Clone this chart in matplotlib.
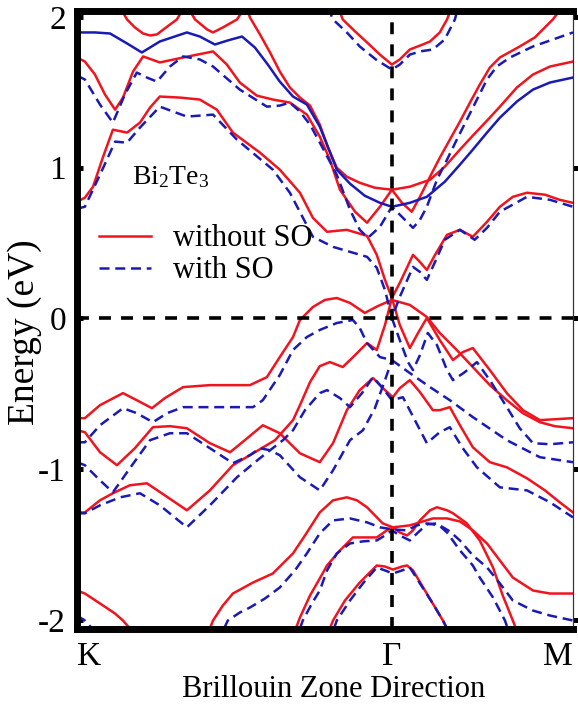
import matplotlib
matplotlib.use('Agg')
import matplotlib.pyplot as plt
from matplotlib.lines import Line2D

plt.rcParams['font.family'] = ['Liberation Serif', 'DejaVu Serif']
plt.rcParams['mathtext.fontset'] = 'custom'
plt.rcParams['mathtext.rm'] = 'Liberation Serif'
plt.rcParams['mathtext.it'] = 'Liberation Serif:italic'

# ---------------- high symmetry path ----------------
k_ticks = [0.0, 1.0, 1.575]
k_labels = ['K', 'Γ', 'M']
e_ticks = [-2, -1, 0, 1, 2]

# ---------------- bands without SO (red, solid) ----------------
k_r1 = [0.137, 0.159, 0.184, 0.210, 0.232, 0.254, 0.279, 0.317, 0.340]
e_r1 = [2.063, 1.983, 1.930, 1.890, 1.877, 1.884, 1.924, 1.983, 2.063]

k_r2 = [0.352, 0.375, 0.413, 0.432, 0.463, 0.508, 0.533]
e_r2 = [2.063, 1.983, 1.917, 1.897, 1.930, 1.983, 2.063]

k_r3 = [0.829, 0.844, 0.883, 0.921, 0.962, 1.000, 1.025, 1.057, 1.098, 1.121, 1.152, 1.175, 1.190]
e_r3 = [2.063, 1.983, 1.904, 1.831, 1.750, 1.684, 1.718, 1.784, 1.817, 1.837, 1.897, 1.983, 2.063]

k_ra = [0.540, 0.549, 0.581, 0.613, 0.644, 0.676, 0.708, 0.740, 0.771, 0.797, 0.825, 0.857, 0.898,
        0.946, 1.000, 1.057, 1.121, 1.168, 1.216, 1.257, 1.302, 1.343, 1.397, 1.448, 1.502, 1.575]
e_ra = [2.063, 1.997, 1.884, 1.764, 1.638, 1.532, 1.465, 1.412, 1.286, 1.133, 1.000, 0.940, 0.900,
        0.867, 0.854, 0.874, 0.920, 1.007, 1.120, 1.213, 1.312, 1.405, 1.532, 1.618, 1.671, 1.704]

k_rb = [0.000, 0.025, 0.057, 0.089, 0.121, 0.146, 0.178, 0.210, 0.263, 0.337, 0.432, 0.476, 0.517,
        0.571, 0.622, 0.676, 0.730, 0.771, 0.803, 0.835, 0.883, 0.921, 0.962, 1.000, 1.032, 1.063,
        1.089, 1.121, 1.152, 1.184, 1.216, 1.248, 1.279, 1.311, 1.343, 1.406, 1.454, 1.511, 1.540]
e_rb = [1.731, 1.704, 1.618, 1.485, 1.385, 1.465, 1.638, 1.738, 1.698, 1.731, 1.771, 1.684, 1.565,
        1.478, 1.452, 1.432, 1.352, 1.206, 1.053, 0.854, 0.708, 0.635, 0.741, 0.854, 0.767, 0.708,
        0.807, 0.940, 1.066, 1.186, 1.306, 1.432, 1.551, 1.664, 1.731, 1.804, 1.864, 1.983, 2.063]

k_rc = [0.000, 0.025, 0.051, 0.083, 0.114, 0.159, 0.200, 0.232, 0.263, 0.327, 0.390, 0.444, 0.495,
        0.581, 0.644, 0.708, 0.749, 0.794, 0.857, 0.921, 0.952, 0.978, 1.000, 1.025, 1.067, 1.089,
        1.111, 1.137, 1.175, 1.216, 1.257, 1.302, 1.343, 1.384, 1.429, 1.486, 1.533, 1.575]
e_rc = [0.774, 0.801, 0.874, 1.073, 1.252, 1.233, 1.299, 1.399, 1.472, 1.465, 1.452, 1.385, 1.233,
        1.100, 0.987, 0.834, 0.668, 0.575, 0.588, 0.548, 0.422, 0.256, 0.136, 0.236, 0.422, 0.375,
        0.322, 0.422, 0.555, 0.588, 0.542, 0.641, 0.741, 0.807, 0.834, 0.821, 0.787, 0.767]

k_rv1 = [0.000, 0.025, 0.073, 0.146, 0.190, 0.238, 0.279, 0.337, 0.422, 0.549, 0.603, 0.644, 0.686,
         0.708, 0.749, 0.787, 0.825, 0.867, 0.914, 0.956, 1.000, 1.057, 1.111, 1.152, 1.206, 1.257,
         1.311, 1.365, 1.416, 1.470, 1.517, 1.575]
e_rv1 = [-0.661, -0.661, -0.575, -0.495, -0.542, -0.595, -0.528, -0.455, -0.442, -0.442, -0.389,
         -0.256, -0.123, -0.010, 0.076, 0.123, 0.136, 0.103, 0.037, 0.083, 0.123, 0.090, 0.010,
         -0.096, -0.209, -0.322, -0.442, -0.542, -0.628, -0.688, -0.714, -0.728]

k_rv2 = [0.000, 0.025, 0.073, 0.114, 0.168, 0.222, 0.279, 0.349, 0.422, 0.495, 0.565, 0.629, 0.686,
         0.708, 0.740, 0.771, 0.803, 0.844, 0.883, 0.921, 0.952, 0.978, 1.000, 1.025, 1.057, 1.083,
         1.111, 1.152, 1.194, 1.225, 1.257, 1.311, 1.365, 1.416, 1.470, 1.575]
e_rv2 = [-1.286, -1.286, -1.206, -1.159, -1.106, -1.093, -1.173, -1.272, -1.140, -0.973, -0.887,
         -0.807, -0.674, -0.575, -0.422, -0.316, -0.289, -0.322, -0.243, -0.163, -0.209, -0.043,
         0.136, -0.043, -0.196, -0.096, 0.003, -0.143, -0.276, -0.223, -0.196, -0.342, -0.495,
         -0.608, -0.674, -0.661]

k_rv3 = [0.000, 0.025, 0.073, 0.127, 0.184, 0.241, 0.295, 0.349, 0.422, 0.486, 0.533, 0.590, 0.644,
         0.708, 0.771, 0.813, 0.857, 0.898, 0.940, 0.978, 1.003, 1.025, 1.057, 1.089, 1.130, 1.152,
         1.184, 1.216, 1.257, 1.311, 1.365, 1.429, 1.486, 1.533, 1.575]
e_rv3 = [-0.741, -0.754, -0.887, -0.973, -0.860, -0.721, -0.714, -0.728, -0.827, -0.887, -0.807,
         -0.708, -0.761, -0.894, -0.953, -0.827, -0.608, -0.475, -0.395, -0.475, -0.522, -0.462,
         -0.409, -0.488, -0.608, -0.608, -0.588, -0.708, -0.854, -0.953, -0.987, -1.060, -1.140,
         -1.219, -1.286]

k_rd1 = [0.422, 0.432, 0.463, 0.495, 0.559, 0.622, 0.686, 0.724, 0.771, 0.813, 0.857, 0.889, 0.921,
         0.971, 1.003, 1.057, 1.130, 1.175, 1.216, 1.257, 1.302, 1.343, 1.384, 1.448, 1.502, 1.575]
e_rd1 = [-2.056, -2.003, -1.904, -1.824, -1.751, -1.691, -1.558, -1.439, -1.286, -1.206, -1.186,
         -1.206, -1.252, -1.359, -1.385, -1.372, -1.326, -1.326, -1.346, -1.405, -1.492, -1.605,
         -1.718, -1.804, -1.824, -1.824]

k_rd2 = [0.695, 0.708, 0.740, 0.771, 0.794, 0.835, 0.876, 0.952, 0.984, 1.003, 1.025, 1.048, 1.067,
         1.089, 1.121, 1.143, 1.175, 1.194, 1.238, 1.279, 1.321, 1.352, 1.384, 1.394]
e_rd2 = [-2.056, -1.983, -1.837, -1.724, -1.638, -1.538, -1.452, -1.452, -1.405, -1.385, -1.419,
         -1.439, -1.405, -1.339, -1.272, -1.252, -1.272, -1.292, -1.359, -1.472, -1.651, -1.837,
         -2.003, -2.056]

k_rd3 = [0.803, 0.813, 0.851, 0.898, 0.952, 0.978, 1.003, 1.032, 1.048, 1.067, 1.105, 1.143, 1.162, 1.175]
e_rd3 = [-2.056, -2.003, -1.870, -1.751, -1.638, -1.645, -1.665, -1.645, -1.638, -1.671, -1.804,
         -1.937, -2.003, -2.056]

k_re1 = [0.000, 0.025, 0.073, 0.121, 0.146, 0.168]
e_re1 = [-1.804, -1.824, -1.890, -1.957, -2.003, -2.056]

# ---------------- band with SO drawn solid (blue) ----------------
k_bs = [0.000, 0.057, 0.105, 0.159, 0.206, 0.263, 0.349, 0.390, 0.438, 0.479, 0.524, 0.565, 0.606,
        0.644, 0.686, 0.730, 0.771, 0.803, 0.825, 0.867, 0.914, 0.962, 1.000, 1.057, 1.111, 1.168,
        1.216, 1.257, 1.302, 1.343, 1.397, 1.448, 1.502, 1.575]
e_bs = [1.897, 1.897, 1.890, 1.824, 1.764, 1.837, 1.897, 1.870, 1.817, 1.844, 1.870, 1.797, 1.684,
        1.571, 1.472, 1.419, 1.272, 1.106, 0.987, 0.894, 0.814, 0.767, 0.741, 0.767, 0.807, 0.907,
        1.020, 1.120, 1.233, 1.332, 1.439, 1.518, 1.565, 1.598]

# ---------------- bands with SO (blue, dashed) ----------------
k_b3v = [0.797, 0.813, 0.857, 0.898, 0.949, 1.000, 1.025, 1.057, 1.089, 1.130, 1.168, 1.200, 1.210]
e_b3v = [2.063, 1.983, 1.897, 1.804, 1.718, 1.651, 1.684, 1.750, 1.771, 1.784, 1.851, 1.983, 2.063]

k_bu = [0.000, 0.025, 0.073, 0.114, 0.152, 0.190, 0.222, 0.254, 0.295, 0.337, 0.390, 0.432, 0.517,
        0.603, 0.644, 0.676, 0.708, 0.740, 0.778, 0.825, 0.867, 0.898, 0.924, 0.962, 1.000, 1.032,
        1.067, 1.089, 1.111, 1.143, 1.175, 1.206, 1.238, 1.270, 1.302, 1.333, 1.375, 1.448, 1.511, 1.575]
e_bu = [1.611, 1.585, 1.419, 1.299, 1.485, 1.631, 1.598, 1.571, 1.671, 1.738, 1.718, 1.671, 1.518,
        1.405, 1.412, 1.432, 1.372, 1.286, 1.140, 0.953, 0.721, 0.588, 0.535, 0.608, 0.741, 0.674,
        0.601, 0.654, 0.741, 0.920, 1.053, 1.186, 1.319, 1.452, 1.585, 1.671, 1.731, 1.804, 1.850, 1.897]

k_bc = [0.000, 0.025, 0.073, 0.121, 0.159, 0.200, 0.263, 0.349, 0.432, 0.508, 0.622, 0.676, 0.749,
        0.813, 0.867, 0.921, 0.952, 0.978, 1.000, 1.025, 1.067, 1.089, 1.111, 1.137, 1.168, 1.216,
        1.263, 1.302, 1.343, 1.429, 1.502, 1.575]
e_bc = [0.728, 0.741, 0.953, 1.173, 1.166, 1.266, 1.405, 1.339, 1.352, 1.186, 0.987, 0.834, 0.542,
        0.475, 0.442, 0.409, 0.336, 0.189, 0.003, 0.143, 0.342, 0.309, 0.256, 0.375, 0.522, 0.588,
        0.522, 0.601, 0.708, 0.807, 0.787, 0.741]

k_bv1 = [0.000, 0.025, 0.073, 0.146, 0.190, 0.241, 0.286, 0.337, 0.454, 0.559, 0.590, 0.644, 0.686,
         0.730, 0.771, 0.825, 0.876, 0.898, 0.921, 0.962, 1.000, 1.057, 1.121, 1.184, 1.257, 1.365,
         1.470, 1.575]
e_bv1 = [-0.821, -0.821, -0.708, -0.595, -0.628, -0.688, -0.628, -0.588, -0.588, -0.588, -0.542,
         -0.375, -0.209, -0.123, -0.076, -0.030, -0.010, -0.063, -0.163, -0.256, -0.276, -0.362,
         -0.455, -0.542, -0.654, -0.807, -0.920, -0.953]

k_bv2 = [0.000, 0.025, 0.073, 0.114, 0.168, 0.232, 0.295, 0.349, 0.422, 0.495, 0.549, 0.581, 0.613,
         0.644, 0.708, 0.771, 0.813, 0.867, 0.908, 0.946, 0.978, 1.000]
e_bv2 = [-0.953, -0.973, -1.073, -1.153, -0.993, -0.807, -0.761, -0.761, -0.860, -0.960, -0.907,
         -0.860, -0.874, -0.907, -1.053, -1.140, -1.007, -0.807, -0.741, -0.595, -0.409, -0.276]

k_bvx = [1.000, 1.025, 1.051, 1.067, 1.089, 1.114, 1.143, 1.175, 1.194, 1.232, 1.270, 1.311, 1.365,
         1.406, 1.448, 1.502, 1.575]
e_bvx = [0.003, -0.143, -0.289, -0.342, -0.243, -0.096, -0.176, -0.342, -0.409, -0.355, -0.289,
         -0.409, -0.588, -0.728, -0.827, -0.834, -0.821]

k_bv3 = [0.000, 0.025, 0.073, 0.137, 0.200, 0.263, 0.349, 0.422, 0.508, 0.565, 0.613, 0.654, 0.686,
         0.724, 0.771, 0.794, 0.835, 0.867, 0.905, 0.940, 0.971, 1.000, 1.035, 1.073, 1.111, 1.152,
         1.184, 1.225, 1.270, 1.343, 1.429, 1.502, 1.575]
e_bv3 = [-1.292, -1.292, -1.239, -1.186, -1.159, -1.239, -1.385, -1.239, -1.053, -0.953, -0.874,
         -0.807, -0.741, -0.608, -0.495, -0.475, -0.528, -0.588, -0.495, -0.389, -0.462, -0.542,
         -0.522, -0.674, -0.827, -0.754, -0.721, -0.860, -0.987, -1.120, -1.140, -1.219, -1.319]

k_bd1 = [0.467, 0.479, 0.517, 0.549, 0.597, 0.644, 0.692, 0.730, 0.771, 0.813, 0.867, 0.921, 0.962,
         1.003, 1.048, 1.079, 1.111, 1.152, 1.184, 1.216, 1.257, 1.302, 1.343, 1.384, 1.448, 1.502, 1.575]
e_bd1 = [-2.056, -2.003, -1.950, -1.917, -1.857, -1.784, -1.671, -1.558, -1.425, -1.339, -1.326,
         -1.352, -1.385, -1.399, -1.405, -1.372, -1.359, -1.372, -1.412, -1.472, -1.571, -1.651,
         -1.757, -1.870, -1.937, -1.970, -2.003]

k_bd2 = [0.708, 0.717, 0.746, 0.771, 0.794, 0.825, 0.867, 0.908, 0.952, 0.978, 1.000, 1.025, 1.057,
         1.083, 1.111, 1.143, 1.175, 1.216, 1.257, 1.279, 1.321, 1.359, 1.368]
e_bd2 = [-2.056, -2.003, -1.890, -1.804, -1.671, -1.558, -1.492, -1.478, -1.472, -1.439, -1.405,
         -1.439, -1.472, -1.419, -1.365, -1.359, -1.419, -1.538, -1.638, -1.718, -1.850, -2.003, -2.056]

k_bd3 = [0.816, 0.825, 0.867, 0.908, 0.952, 0.978, 1.003, 1.032, 1.057, 1.089, 1.130, 1.162, 1.175]
e_bd3 = [-2.056, -2.003, -1.870, -1.757, -1.651, -1.671, -1.691, -1.671, -1.651, -1.757, -1.890,
         -2.003, -2.056]

k_be1 = [0.000, 0.025, 0.048]
e_be1 = [-1.970, -2.003, -2.056]

bandas_sem_so = [(k_r1, e_r1), (k_r2, e_r2), (k_r3, e_r3), (k_ra, e_ra), (k_rb, e_rb),
                 (k_rc, e_rc), (k_rv1, e_rv1), (k_rv2, e_rv2), (k_rv3, e_rv3),
                 (k_rd1, e_rd1), (k_rd2, e_rd2), (k_rd3, e_rd3), (k_re1, e_re1)]
bandas_com_so = [(k_b3v, e_b3v), (k_bu, e_bu), (k_bc, e_bc), (k_bv1, e_bv1), (k_bv2, e_bv2),
                 (k_bvx, e_bvx), (k_bv3, e_bv3), (k_bd1, e_bd1), (k_bd2, e_bd2),
                 (k_bd3, e_bd3), (k_be1, e_be1)]

# ---------------- estilo ----------------
vermelho = '#f0141e'
azul = '#1a1ab4'
lw = 1.8
tracejado = (0, (4.0, 2.3))

fig = plt.figure(figsize=(5.78, 7.05), dpi=100)
ax = fig.add_axes([0.1332, 0.1085, 0.8581, 0.8752])

for k, e in bandas_sem_so:
    ax.plot(k, e, color=vermelho, lw=lw, solid_joinstyle='round', zorder=2)
ax.plot(k_bs, e_bs, color=azul, lw=lw, solid_joinstyle='round', zorder=2.5)
for k, e in bandas_com_so:
    ax.plot(k, e, color=azul, lw=lw, linestyle=tracejado, zorder=2.5)

# linha de Fermi e linha em Gamma
ax.axhline(0, color='black', lw=2.6, linestyle=(0, (3.3, 2.8)), zorder=3)
ax.axvline(k_ticks[1], color='black', lw=2.6, linestyle=(0, (3.3, 2.8)), zorder=3)

ax.set_xlim(k_ticks[0], k_ticks[2])
ax.set_ylim(-2.056, 2.036)

# eixos
for lado in ['left', 'top', 'bottom']:
    ax.spines[lado].set_linewidth(5)
ax.spines['right'].set_linewidth(0.8)
ax.spines['right'].set_color('#333333')

ax.set_xticks(k_ticks)
ax.set_xticklabels(k_labels)
ax.tick_params(axis='x', length=0, labelsize=24, pad=9.5)
labs = ax.get_xticklabels()
labs[0].set_horizontalalignment('left')
labs[2].set_horizontalalignment('right')

ax.set_yticks(e_ticks)
ax.set_yticklabels([str(v) for v in e_ticks])
ax.tick_params(axis='y', direction='in', length=4.5, width=3.6, labelsize=24, pad=8)

sec = ax.secondary_yaxis('right')
sec.set_yticks(e_ticks)
sec.tick_params(axis='y', direction='out', length=4, width=3.6, labelright=False)
sec.spines['right'].set_linewidth(0.8)
sec.spines['right'].set_color('#333333')

ax.set_xlabel('Brillouin Zone Direction', fontsize=22)
ax.xaxis.set_label_coords(0.518, -0.075)
ax.set_ylabel('Energy (eV)', fontsize=27)
ax.yaxis.set_label_coords(-0.070, 0.48)

ax.text(0.175, 0.89, r'Bi$_2$Te$_3$', fontsize=20, va='baseline', ha='left')

legenda = [Line2D([], [], color=vermelho, lw=lw, label='without SO'),
           Line2D([], [], color=azul, lw=lw, linestyle=tracejado, label='with SO')]
ax.legend(handles=legenda, loc='upper left', bbox_to_anchor=(0.045, 0.655), frameon=False,
          fontsize=22, handlelength=1.7, handletextpad=0.7, labelspacing=0.1,
          borderpad=0, borderaxespad=0)

fig.savefig('out.png', dpi=100)
